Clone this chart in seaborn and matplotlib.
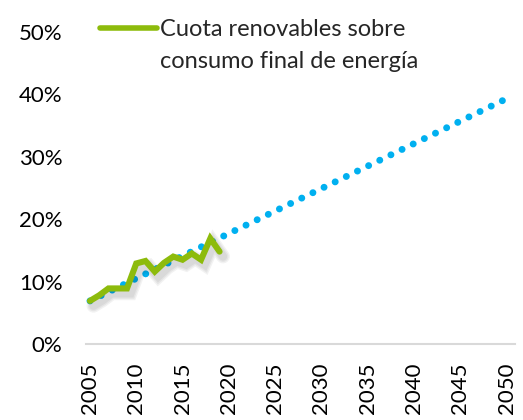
import matplotlib
matplotlib.use("Agg")
import matplotlib.pyplot as plt
import matplotlib.ticker as mtick
import matplotlib.patheffects as pe
from matplotlib.lines import Line2D
import pandas as pd
import seaborn as sns

# data
years_hist = [2005, 2006, 2007, 2008, 2009, 2010, 2011, 2012, 2013, 2014,
              2015, 2016, 2017, 2018, 2019]
share_hist = [6.9, 7.8, 8.9, 8.9, 8.9, 12.9, 13.3, 11.6, 13.0, 14.0,
              13.5, 14.5, 13.5, 16.9, 14.8]
years_trend = [2005, 2050]
share_trend = [6.9, 39.3]
year_ticks = list(range(2005, 2051, 5))
legend_lines = ["Cuota renovables sobre", "consumo final de energía"]

GREEN = "#8DBB0C"
BLUE = "#00B0F0"

sns.set_theme(style="white")
plt.rcParams["font.family"] = ["Lato", "DejaVu Sans"]

hist = pd.DataFrame({"year": years_hist, "share": [v / 100 for v in share_hist]})
trend = pd.DataFrame({"year": years_trend, "share": [v / 100 for v in share_trend]})

fig = plt.figure(figsize=(5.23, 4.2), dpi=100)
ax = fig.add_axes([0.1644, 0.181, 0.820, 0.743])

sns.lineplot(data=trend, x="year", y="share", ax=ax, color=BLUE,
             linewidth=5.0, linestyle=(0, (0.01, 1.774)),
             dash_capstyle="round")

# soft drop shadow under the measured series
shadow = [pe.SimpleLineShadow(offset=(2.5, -3.5), shadow_color="black",
                              alpha=0.05, linewidth=w) for w in (10, 8, 6)]
sns.lineplot(data=hist, x="year", y="share", ax=ax, color=GREEN, linewidth=4.4,
             path_effects=shadow + [pe.Normal()])
ax.lines[-1].set_solid_joinstyle("miter")

ax.set_xlim(2004.57, 2050.9)
ax.set_ylim(0, 0.5)
ax.set_xticks(year_ticks)
ax.set_yticks([0, 0.1, 0.2, 0.3, 0.4, 0.5])
ax.yaxis.set_major_formatter(mtick.PercentFormatter(1.0, decimals=0))
ax.tick_params(axis="both", labelsize=16, length=0, colors="black")
ax.tick_params(axis="x", rotation=90, pad=13)
ax.tick_params(axis="y", pad=17)
ax.set_xlabel("")
ax.set_ylabel("")
for s in ["top", "right", "left"]:
    ax.spines[s].set_visible(False)
ax.spines["bottom"].set_color("#D9D9D9")
ax.spines["bottom"].set_linewidth(1.5)

handles = [Line2D([], [], color=GREEN, lw=4),
           Line2D([], [], color="none", lw=0)]
ax.legend(handles, legend_lines, loc="upper left",
          bbox_to_anchor=(100 / 523, 1 - 19 / 420), bbox_transform=fig.transFigure,
          frameon=False, fontsize=17, handlelength=2.4, handletextpad=0.12,
          borderpad=0, borderaxespad=0, labelspacing=0.45)

fig.savefig("out.png", dpi=100)
